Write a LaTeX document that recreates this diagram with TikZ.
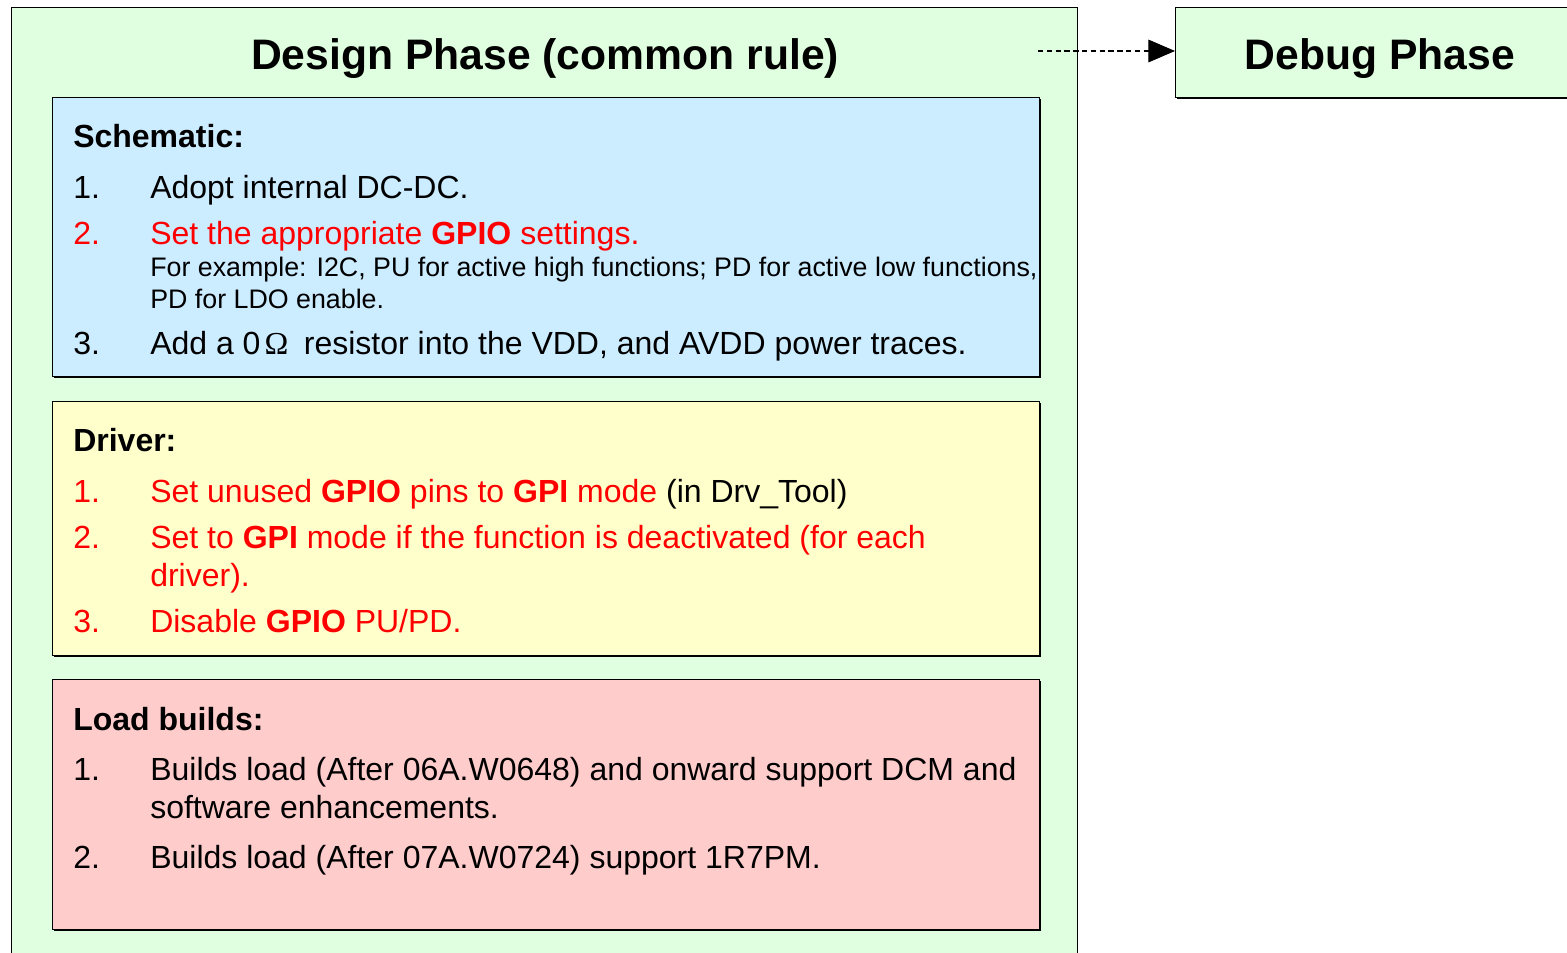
\documentclass[tikz,border=0pt]{standalone}
\usepackage{fontspec}
\setmainfont{Liberation Sans}
\newfontfamily\ohmfont{Liberation Serif}
\usetikzlibrary{positioning}
\usetikzlibrary{arrows.meta}
\usetikzlibrary{shadows}
\usepackage{xcolor}

\definecolor{phasegreen}{RGB}{224,255,224}
\definecolor{schemblue}{RGB}{204,236,255}
\definecolor{drvyellow}{RGB}{255,255,204}
\definecolor{loadpink}{RGB}{255,204,204}
\definecolor{rulered}{RGB}{255,0,0}

\tikzset{
  phasebox/.style={draw=black, line width=1.1pt, fill=phasegreen, anchor=north west},
  rulebox/.style={draw=black, line width=1.1pt, anchor=north west,
    minimum width=740.25pt,
    drop shadow={shadow xshift=1.2pt, shadow yshift=-1.2pt, fill=black, opacity=1}},
  phasetitle/.style={anchor=base, font=\fontsize{32}{38}\selectfont\bfseries},
  rulehead/.style={anchor=base west, font=\fontsize{24}{28}\selectfont\bfseries},
  ruleline/.style={anchor=base west, font=\fontsize{24}{28}\selectfont},
  rulenote/.style={anchor=base west, font=\fontsize{20.1}{24}\selectfont},
}

\begin{document}
\begin{tikzpicture}[x=0.75pt,y=-0.75pt, every node/.style={inner sep=0pt}]
  \clip (0,0) rectangle (1567,953);

  % phases
  \node[phasebox, minimum width=799.5pt, minimum height=750pt] (design) at (11,7) {};
  \node[phasebox, minimum width=375pt, minimum height=67.5pt,
    drop shadow={shadow xshift=1.2pt, shadow yshift=-1.2pt, fill=black, opacity=1}] (debug) at (1175,7) {};
  \node[phasetitle] (designtitle) at (545,69) {Design Phase (common rule)};
  \node[phasetitle] (debugtitle) at (1380,69) {Debug Phase};

  \coordinate (arrstart) at (1038,51);
  \draw[dash pattern=on 4pt off 2.6pt, line width=0.9pt, -{Triangle[length=20pt, width=17pt]}]
    (arrstart) -- (debug.west |- arrstart);

  % rule boxes
  \node[rulebox, fill=schemblue, minimum height=209.25pt] (schem) at (52,97) {};
  \node[rulebox, fill=drvyellow, minimum height=190.5pt] (drv) at (52,401) {};
  \node[rulebox, fill=loadpink, minimum height=187.5pt] (load) at (52,679) {};

  % schematic
  \node[rulehead] (schemhead) at (73,147) {Schematic:};
  \node[ruleline] (s1n) at (73,198) {1.};
  \node[ruleline] (s1) at (150,198) {Adopt internal DC-DC.};
  \node[ruleline, text=rulered] (s2n) at (73,244) {2.};
  \node[ruleline, text=rulered] (s2) at (150,244) {Set the appropriate \textbf{GPIO} settings.};
  \node[rulenote] (s2a) at (150,276) {For example: I2C, PU for active high functions; PD for active low functions,};
  \node[rulenote] (s2b) at (150,308) {PD for LDO enable.};
  \node[ruleline] (s3n) at (73,354) {3.};
  \node[ruleline] (s3) at (150,354) {Add a 0\kern3pt{\ohmfont Ω}\kern5pt\ resistor into the VDD, and AVDD power traces.};

  % driver
  \node[rulehead] (drvhead) at (73,451) {Driver:};
  \node[ruleline, text=rulered] (d1n) at (73,502) {1.};
  \node[ruleline] (d1) at (150,502) {\textcolor{rulered}{Set unused \textbf{GPIO} pins to \textbf{GPI} mode} (in Drv\_Tool)};
  \node[ruleline, text=rulered] (d2n) at (73,548) {2.};
  \node[ruleline, text=rulered] (d2) at (150,548) {Set to \textbf{GPI} mode if the function is deactivated (for each};
  \node[ruleline, text=rulered] (d2b) at (150,586) {driver).};
  \node[ruleline, text=rulered] (d3n) at (73,632) {3.};
  \node[ruleline, text=rulered] (d3) at (150,632) {Disable \textbf{GPIO} PU/PD.};

  % load builds
  \node[rulehead] (loadhead) at (73,730) {Load builds:};
  \node[ruleline] (l1n) at (73,780) {1.};
  \node[ruleline] (l1) at (150,780) {Builds load (After 06A.W0648) and onward support DCM and};
  \node[ruleline] (l1b) at (150,818) {software enhancements.};
  \node[ruleline] (l2n) at (73,868) {2.};
  \node[ruleline] (l2) at (150,868) {Builds load (After 07A.W0724) support 1R7PM.};
\end{tikzpicture}
\end{document}
